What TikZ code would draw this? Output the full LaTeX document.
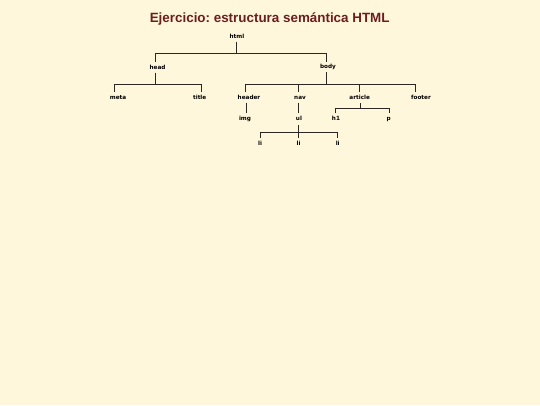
\documentclass[tikz,border=0pt]{standalone}
\usepackage{fontspec}
\usepackage{tikz}
\usetikzlibrary{calc}
\newfontfamily\headfont{Liberation Sans}
\newfontfamily\tagfont{DejaVu Sans}
\definecolor{paper}{HTML}{FFF7DC}
\definecolor{headred}{HTML}{6B1E1E}
\definecolor{branchgray}{HTML}{2A2622}
\frenchspacing

\tikzset{
	tag/.style={font=\tagfont\bfseries\fontsize{5.7}{6}\selectfont, anchor=base, inner sep=0pt},
	branch/.style={draw=branchgray, line width=1pt},
}

\begin{document}
\begin{tikzpicture}[x=1pt, y=-1pt]

	\fill[paper] (0,0) rectangle (540,405);
	\useasboundingbox (0,0) rectangle (540,405);

	\node[font=\headfont\bfseries\fontsize{13.4}{15}\selectfont, text=headred, anchor=base] (heading) at (269.7,22.3) {Ejercicio: estructura semántica HTML};

	% the tags, one row per level
	\node[tag] (html) at (237,38) {html};
	\node[tag] (head) at (157.5,69) {head};
	\node[tag] (body) at (328,68.7) {body};
	\node[tag] (meta) at (118,99.3) {meta};
	\node[tag] (titletag) at (199.7,99.3) {title};
	\node[tag] (header) at (249,99.3) {header};
	\node[tag] (nav) at (300,99.3) {nav};
	\node[tag] (article) at (359.7,99.3) {article};
	\node[tag] (footer) at (421,99.3) {footer};
	\node[tag] (img) at (245,120) {img};
	\node[tag] (ul) at (299,120) {ul};
	\node[tag] (h1) at (336,120) {h1};
	\node[tag] (p) at (388.7,120) {p};
	\node[tag] (li1) at (260,145) {li};
	\node[tag] (li2) at (298.5,145) {li};
	\node[tag] (li3) at (337.7,145) {li};

	% html
	\coordinate (html-b) at (236.7,41.7);
	\coordinate (head-t) at (155.7,61.7);
	\coordinate (body-t) at (326,61.7);
	\draw[branch] (html-b) -- ++(0,11.6);
	\draw[branch] (head-t) -- ++(0,-8.4) -| (body-t);

	% head
	\coordinate (head-b) at (155,72.7);
	\coordinate (meta-t) at (114,91.7);
	\coordinate (titletag-t) at (201.7,91.7);
	\draw[branch] (head-b) -- ++(0,11.3);
	\draw[branch] (meta-t) -- ++(0,-7.7) -| (titletag-t);

	% body
	\coordinate (body-b) at (326,72.3);
	\coordinate (header-t) at (245.7,91.7);
	\coordinate (nav-t) at (298.3,91.7);
	\coordinate (article-t) at (359.3,91.7);
	\coordinate (footer-t) at (415,91.7);
	\draw[branch] (body-b) -- ++(0,11.7);
	\draw[branch] (header-t) -- ++(0,-7.7) -| (footer-t);
	\draw[branch] (nav-t) -- ++(0,-7.7);
	\draw[branch] (article-t) -- ++(0,-7.7);

	% header, nav, article
	\coordinate (header-b) at (246,102.7);
	\coordinate (img-t) at (246,113.3);
	\draw[branch] (header-b) -- (img-t);
	\coordinate (nav-b) at (298.3,102.7);
	\coordinate (ul-t) at (298.3,113.3);
	\draw[branch] (nav-b) -- (ul-t);
	\coordinate (article-b) at (360,103.3);
	\coordinate (h1-t) at (335,113.3);
	\coordinate (p-t) at (389,113.3);
	\draw[branch] (article-b) -- ++(0,5);
	\draw[branch] (h1-t) -- ++(0,-5) -| (p-t);

	% ul
	\coordinate (ul-b) at (298.3,125);
	\coordinate (li1-t) at (260,137.7);
	\coordinate (li2-t) at (298.3,137.7);
	\coordinate (li3-t) at (337.7,137.7);
	\draw[branch] (ul-b) -- (li2-t);
	\draw[branch] (li1-t) -- ++(0,-5.4) -| (li3-t);

\end{tikzpicture}
\end{document}
